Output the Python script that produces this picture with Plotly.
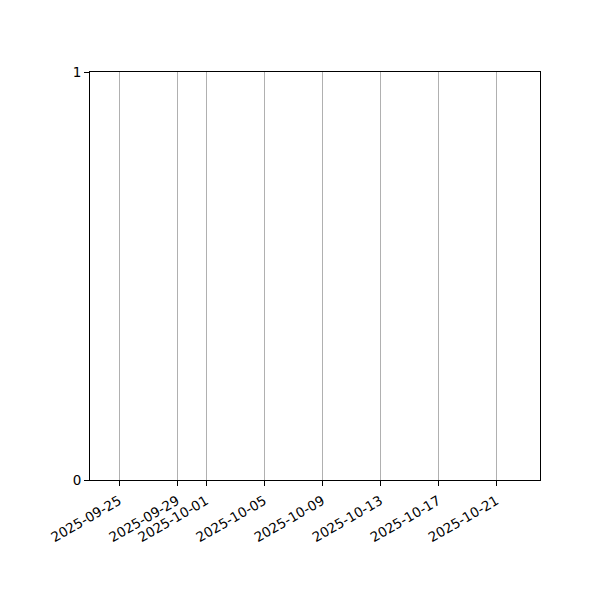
import plotly.graph_objects as go

# Chart data (the reference shows an empty axes with date ticks)
dates = []
values = []

x_range = ["2025-09-23", "2025-10-24"]
date_ticks = ["2025-09-25", "2025-09-29", "2025-10-01", "2025-10-05",
              "2025-10-09", "2025-10-13", "2025-10-17", "2025-10-21"]
y_ticks = [0, 1]

fig = go.Figure()

fig.add_trace(go.Scatter(x=dates, y=values, mode='lines', showlegend=False))

# page body adds an 8px offset, so margins are shifted to compensate
fig.update_layout(
    width=600,
    height=600,
    margin=dict(l=82, r=68, t=64, b=128),
    paper_bgcolor='white',
    plot_bgcolor='white',
    font=dict(family='DejaVu Sans', size=13.5, color='black'),
    showlegend=False,
)

fig.update_xaxes(
    type='date',
    range=x_range,
    tickvals=date_ticks,
    ticktext=date_ticks,
    tickangle=-30,
    ticklabelstandoff=2,
    showgrid=True,
    gridcolor='#b0b0b0',
    gridwidth=1,
    ticks='outside',
    ticklen=5,
    tickcolor='black',
    showline=True,
    linecolor='black',
    linewidth=1,
    mirror=True,
    zeroline=False,
)

fig.update_yaxes(
    range=[0, 1],
    tickvals=y_ticks,
    ticktext=[str(v) for v in y_ticks],
    showgrid=False,
    ticks='outside',
    ticklen=5,
    tickcolor='black',
    showline=True,
    linecolor='black',
    linewidth=1,
    mirror=True,
    zeroline=False,
)

fig.write_html("out.html")
